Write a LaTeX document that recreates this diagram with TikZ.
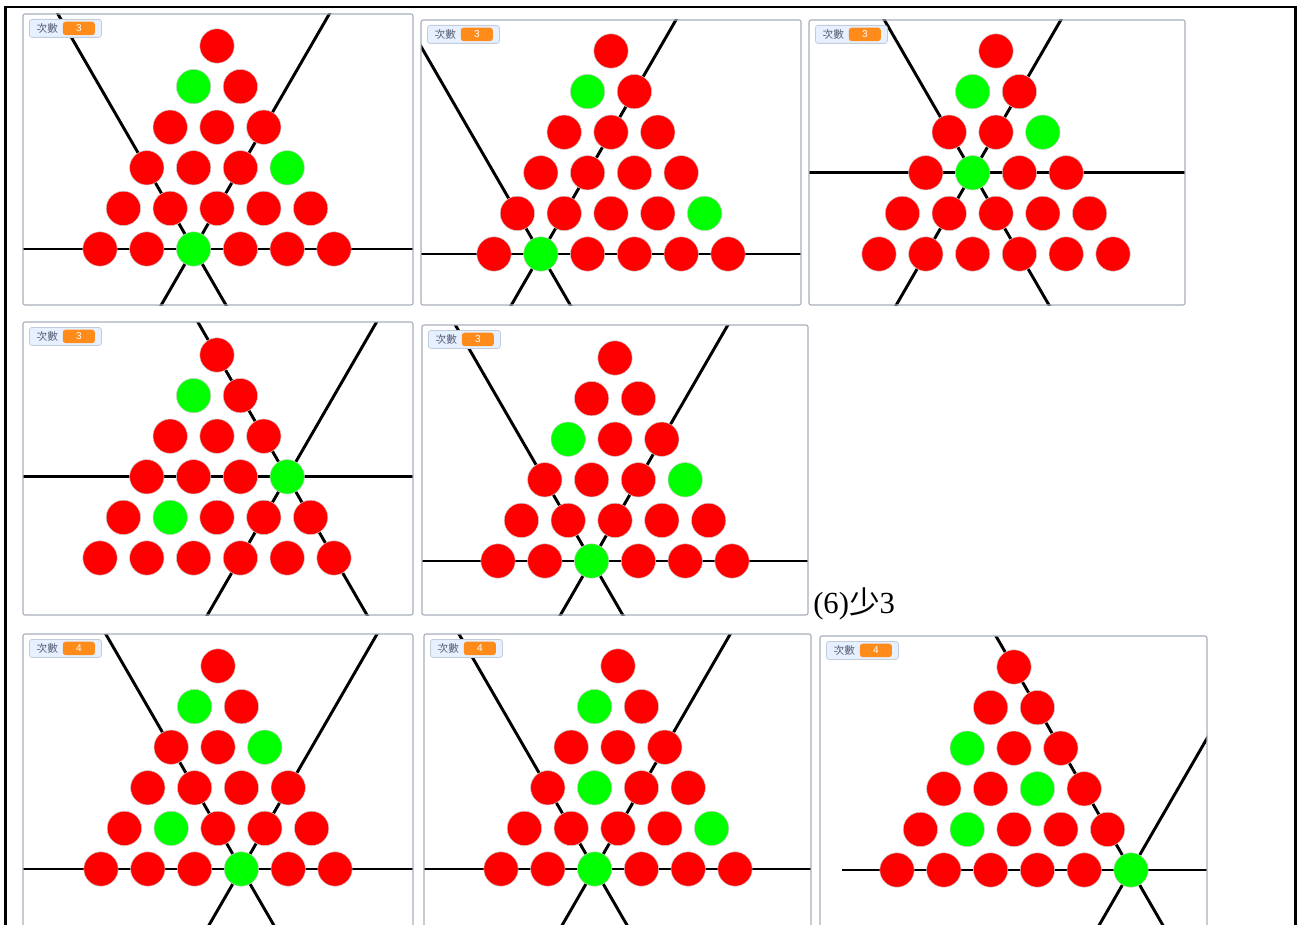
\documentclass[tikz,border=0pt]{standalone}
\usepackage{fontspec}
\setmainfont{Liberation Serif}
\newfontfamily\cjk{Noto Sans CJK TC}
\newfontfamily\uisans{Liberation Sans}
\usepackage{tikz}
\usepackage{xcolor}
\definecolor{pegred}{HTML}{FF0000}
\definecolor{peggreen}{HTML}{00FF00}
\definecolor{stageedge}{HTML}{A8ADBA}
\definecolor{monfill}{HTML}{E6F0FF}
\definecolor{monedge}{HTML}{C3CCDC}
\definecolor{montext}{HTML}{575E75}
\definecolor{varorange}{HTML}{FF8C1A}

\begin{document}
\begin{tikzpicture}[x=0.75pt,y=-0.75pt,
  stage/.style={draw=stageedge,line width=0.8pt,rounded corners=1.5pt},
  guide/.style={draw=black,line width=2.2pt},
  peg/.style={circle,draw=black!20,line width=0.4pt,minimum size=25.8pt,inner sep=0pt},
  monitor/.style={draw=monedge,fill=monfill,rounded corners=2pt,line width=0.6pt,
                  minimum width=54pt,minimum height=13.5pt,inner sep=0pt},
  monlabel/.style={inner sep=0pt,text=montext,font=\cjk\fontsize{8}{9}\selectfont},
  counter/.style={fill=varorange,rounded corners=2pt,minimum width=24pt,minimum height=10pt,
                  inner sep=0pt,text=white,font=\uisans\fontsize{7.5}{8}\selectfont}]
\useasboundingbox (0,0) rectangle (1298,924);
% outer frame
\draw[line width=1.9pt] (5.5,940) -- (5.5,7) -- (1295.5,7) -- (1295.5,940);
% one stage per entry: name/box/apex/count/line start/crossing peg/green pegs
\foreach \pid/\xa/\ya/\xb/\yb/\ax/\ay/\cnt/\hx/\cr/\ck/\greens in {
  a/23/14/413/305/217/46/3/23/5/2/{1/0,3/3,5/2},
  b/421/20/801/305/611/51/3/421/5/1/{1/0,4/4,5/1},
  c/809/20/1185/305/996/51/3/809/3/1/{1/0,2/2,3/1},
  d/23/322/413/615/217/355/3/23/3/3/{1/0,3/3,4/1},
  e/422/325/808/615/615/358/3/422/5/2/{2/0,3/3,5/2},
  f/23/634/413/940/218/666/4/23/5/3/{1/0,2/2,4/1,5/3},
  g/424/634/811/940/618/666/4/424/5/2/{1/0,3/1,4/4,5/2},
  h/820/636/1207/940/1014/667/4/842/5/5/{2/0,3/2,4/1,5/5}}{
  \pgfmathsetmacro\cx{\ax+(\ck-\cr/2)*46.8}
  \pgfmathsetmacro\cy{\ay+\cr*40.6}
  \coordinate (\pid-c) at (\cx,\cy);
  \coordinate (\pid-w) at (\hx,\cy);
  \coordinate (\pid-e) at (\xb,\cy);
  \begin{scope}
    \clip (\xa,\ya) rectangle (\xb,\yb);
    \draw[guide] (\pid-w) -- (\pid-e);
    \draw[guide] ([shift={(-300,519.6)}]\pid-c) -- ([shift={(300,-519.6)}]\pid-c);
    \draw[guide] ([shift={(-300,-519.6)}]\pid-c) -- ([shift={(300,519.6)}]\pid-c);
  \end{scope}
  \draw[stage] (\xa,\ya) rectangle (\xb,\yb);
  % pegs
  \foreach \r in {0,...,5}
    \foreach \k in {0,...,\r}{
      \gdef\pegfill{pegred}
      \foreach \gr/\gk in \greens {\ifnum\gr=\r\relax\ifnum\gk=\k\relax\gdef\pegfill{peggreen}\fi\fi}
      \node[peg,fill=\pegfill] (\pid-\r-\k) at ({\ax+(\k-\r/2)*46.8},{\ay+\r*40.6}) {};
    }
  % variable monitor
  \node[monitor,anchor=north west] (\pid-mon) at ({\xa+6},{\ya+5}) {};
  \node[monlabel,anchor=west] (\pid-lab) at ([xshift=5.5pt]\pid-mon.west) {次數};
  \node[counter,anchor=east] (\pid-cnt) at ([xshift=-5pt]\pid-mon.east) {\cnt};
}
\node[anchor=base west,inner sep=0pt,font=\fontsize{23}{27}\selectfont] (tag) at (813,613) {(6){\cjk 少}3};
\end{tikzpicture}
\end{document}
